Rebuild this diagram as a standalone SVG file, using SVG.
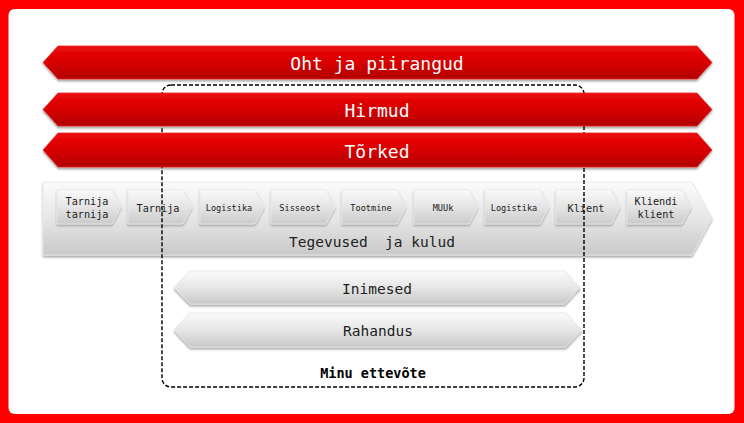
<svg xmlns="http://www.w3.org/2000/svg" width="744" height="423" viewBox="0 0 744 423">
<style>
.rt{font-family:"DejaVu Sans Mono","Liberation Mono",monospace;font-size:18px;fill:#ffffff;text-anchor:middle;dominant-baseline:central}
.gt{font-family:"DejaVu Sans Mono","Liberation Mono",monospace;font-size:14.5px;fill:#222;text-anchor:middle;dominant-baseline:central}
.st{font-family:"DejaVu Sans Mono","Liberation Mono",monospace;font-size:10.2px;fill:#222;text-anchor:middle;dominant-baseline:central}
.ss{font-family:"DejaVu Sans Mono","Liberation Mono",monospace;font-size:8.6px;fill:#222;text-anchor:middle;dominant-baseline:central}
.red{fill:url(#rg);stroke:#ee2a2a;stroke-width:0.8;filter:url(#sh)}
.gray{fill:url(#gg);stroke:#e6e6e6;stroke-width:0.8;filter:url(#sh)}
.chev{fill:url(#cg);stroke:#e8e8e8;stroke-width:0.8;filter:url(#sh2)}
</style>
<defs>
<linearGradient id="rg" x1="0" y1="0" x2="0" y2="1">
<stop offset="0" stop-color="#ea0a0a"/>
<stop offset="0.5" stop-color="#d80000"/>
<stop offset="1" stop-color="#b00000"/>
</linearGradient>
<linearGradient id="gg" x1="0" y1="0" x2="0" y2="1">
<stop offset="0" stop-color="#fbfbfb"/>
<stop offset="0.5" stop-color="#e6e6e6"/>
<stop offset="1" stop-color="#c9c9c9"/>
</linearGradient>
<linearGradient id="cg" x1="0" y1="0" x2="0" y2="1">
<stop offset="0" stop-color="#fafafa"/>
<stop offset="0.5" stop-color="#e4e4e4"/>
<stop offset="1" stop-color="#cbcbcb"/>
</linearGradient>
<filter id="sh" x="-5%" y="-20%" width="110%" height="150%">
<feDropShadow dx="0" dy="2" stdDeviation="1.2" flood-color="#000" flood-opacity="0.35"/>
</filter>
<filter id="sh2" x="-10%" y="-20%" width="120%" height="150%">
<feDropShadow dx="0" dy="1.5" stdDeviation="1" flood-color="#000" flood-opacity="0.3"/>
</filter>
</defs>

<rect x="0" y="0" width="744" height="423" fill="#ff0000"/>
<rect x="8.5" y="9" width="726" height="405" rx="6" fill="#ffffff"/>

<g id="tegevused">
<path class="gray" d="M43,182 L692,182 L712,218 L692,255 L43,255 Z"/>
<text class="gt" x="372" y="242" xml:space="preserve" style="white-space:pre">Tegevused  ja kulud</text>
</g>
<g id="chevrons">
<g id="c1"><path class="chev" d="M57,190 L112,190 L121,207 L112,224 L57,224 Z"/>
<text class="st" x="87" y="201">Tarnija</text><text class="st" x="87" y="214">tarnija</text></g>
<g id="c2"><path class="chev" d="M128,190 L183,190 L192,207 L183,224 L128,224 Z"/>
<text class="st" x="158" y="208">Tarnija</text></g>
<g id="c3"><path class="chev" d="M200,190 L255,190 L264,207 L255,224 L200,224 Z"/>
<text class="ss" x="229" y="208">Logistika</text></g>
<g id="c4"><path class="chev" d="M271,190 L326,190 L335,207 L326,224 L271,224 Z"/>
<text class="ss" x="300" y="208">Sisseost</text></g>
<g id="c5"><path class="chev" d="M342,190 L397,190 L406,207 L397,224 L342,224 Z"/>
<text class="ss" x="371" y="208">Tootmine</text></g>
<g id="c6"><path class="chev" d="M414,190 L469,190 L478,207 L469,224 L414,224 Z"/>
<text class="ss" x="443" y="208">MUUk</text></g>
<g id="c7"><path class="chev" d="M485,190 L540,190 L549,207 L540,224 L485,224 Z"/>
<text class="ss" x="514" y="208">Logistika</text></g>
<g id="c8"><path class="chev" d="M556,190 L611,190 L620,207 L611,224 L556,224 Z"/>
<text class="st" x="586" y="208">Klient</text></g>
<g id="c9"><path class="chev" d="M627,190 L682,190 L691,207 L682,224 L627,224 Z"/>
<text class="st" x="656" y="201">Kliendi</text><text class="st" x="656" y="214">klient</text></g>
</g>

<g id="minu-ettevote">
<rect x="162" y="85" width="422" height="302" rx="9" fill="none" stroke="#000" stroke-width="1.4" stroke-dasharray="4,2"/>
<text x="373" y="373" style="font-family:'DejaVu Sans Mono','Liberation Mono',monospace;font-size:13.5px;font-weight:bold;fill:#000;text-anchor:middle;dominant-baseline:central">Minu ettevõte</text>
</g>

<g id="oht">
<path class="red" d="M43,62.5 L58,46 L697,46 L712,62.5 L697,79 L58,79 Z"/>
<text class="rt" x="377" y="63">Oht ja piirangud</text>
</g>
<g id="hirmud">
<path class="red" d="M43,109.5 L58,93 L697,93 L712,109.5 L697,126 L58,126 Z"/>
<text class="rt" x="377" y="110">Hirmud</text>
</g>
<g id="torked">
<path class="red" d="M43,150 L58,133 L697,133 L712,150 L697,167 L58,167 Z"/>
<text class="rt" x="377" y="151">Tõrked</text>
</g>

<g id="inimesed">
<path class="gray" d="M174,287.5 L190,271 L565,271 L580,287.5 L565,304 L190,304 Z"/>
<text class="gt" x="377" y="289">Inimesed</text>
</g>
<g id="rahandus">
<path class="gray" d="M174,330 L190,313 L566,313 L582,330 L566,347 L190,347 Z"/>
<text class="gt" x="378" y="331">Rahandus</text>
</g>
<g id="connectors"></g>
</svg>
